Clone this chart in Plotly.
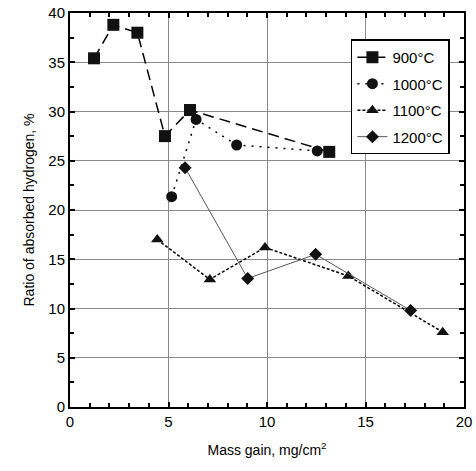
import plotly.graph_objects as go

x900 = [1.22, 2.2, 3.42, 4.82, 6.09, 13.16]
y900 = [35.4, 38.8, 38.0, 27.5, 30.15, 25.9]

x1000 = [5.16, 6.4, 8.46, 12.55]
y1000 = [21.35, 29.2, 26.6, 26.0]

x1100 = [4.43, 7.1, 9.9, 14.13, 18.92]
y1100 = [17.0, 12.95, 16.2, 13.3, 7.6]

x1200 = [5.84, 9.02, 12.47, 17.29]
y1200 = [24.3, 13.05, 15.5, 9.8]

names = ["900°C", "1000°C", "1100°C", "1200°C"]

fig = go.Figure()
fig.add_trace(go.Scatter(x=x900, y=y900, name=names[0], mode="lines+markers",
                         legendgroup="a",
                         line=dict(color="black", width=1.5, dash="11px,6px"),
                         marker=dict(symbol="square", size=12, color="#111")))
fig.add_trace(go.Scatter(x=x1000, y=y1000, name=names[1], mode="lines+markers",
                         legendgroup="b",
                         line=dict(color="black", width=1.5, dash="2px,6px"),
                         marker=dict(symbol="circle", size=11, color="#111")))
fig.add_trace(go.Scatter(x=x1100, y=y1100, name=names[2], mode="lines+markers",
                         legendgroup="c",
                         line=dict(color="black", width=1.5, dash="3px,2px"),
                         marker=dict(symbol="triangle-up", size=11, color="#111")))
fig.add_trace(go.Scatter(x=x1200, y=y1200, name=names[3], mode="lines+markers",
                         legendgroup="d",
                         line=dict(color="#555", width=1),
                         marker=dict(symbol="diamond", size=10, color="#111")))

axis_common = dict(
    showline=True, linecolor="black", linewidth=2, mirror="ticks",
    ticks="inside", ticklen=5, tickcolor="black", tickwidth=1.5,
    showgrid=True, gridcolor="#8a8a8a", gridwidth=1,
    zeroline=False, automargin=False,
    tickfont=dict(family="Liberation Sans, Arial", size=15, color="black"),
)

fig.update_xaxes(range=[0, 20], dtick=5,
                 minor=dict(dtick=1, ticks="inside", ticklen=4, tickcolor="black", showgrid=False),
                 title=dict(text="Mass gain, mg/cm<sup>2</sup>",
                            font=dict(family="Liberation Sans, Arial", size=14, color="black"),
                            standoff=16),
                 **axis_common)
fig.update_yaxes(range=[0, 40], dtick=5,
                 minor=dict(dtick=2.5, ticks="inside", ticklen=4, tickcolor="black", showgrid=False),
                 title=dict(text="Ratio of absorbed hydrogen, %",
                            font=dict(family="Liberation Sans, Arial", size=14, color="black"),
                            standoff=10),
                 **axis_common)

fig.update_layout(
    width=476, height=471,
    margin=dict(l=70, r=12, t=13, b=64),
    plot_bgcolor="white", paper_bgcolor="white",
    legend=dict(x=0.713, y=0.933, xanchor="left", yanchor="top",
                bgcolor="white", bordercolor="black", borderwidth=1.5,
                font=dict(family="Liberation Sans, Arial", size=15, color="black"),
                tracegroupgap=4),
)

fig.write_html("out.html", config={"displayModeBar": False},
               post_script="document.body.style.margin='0';")
